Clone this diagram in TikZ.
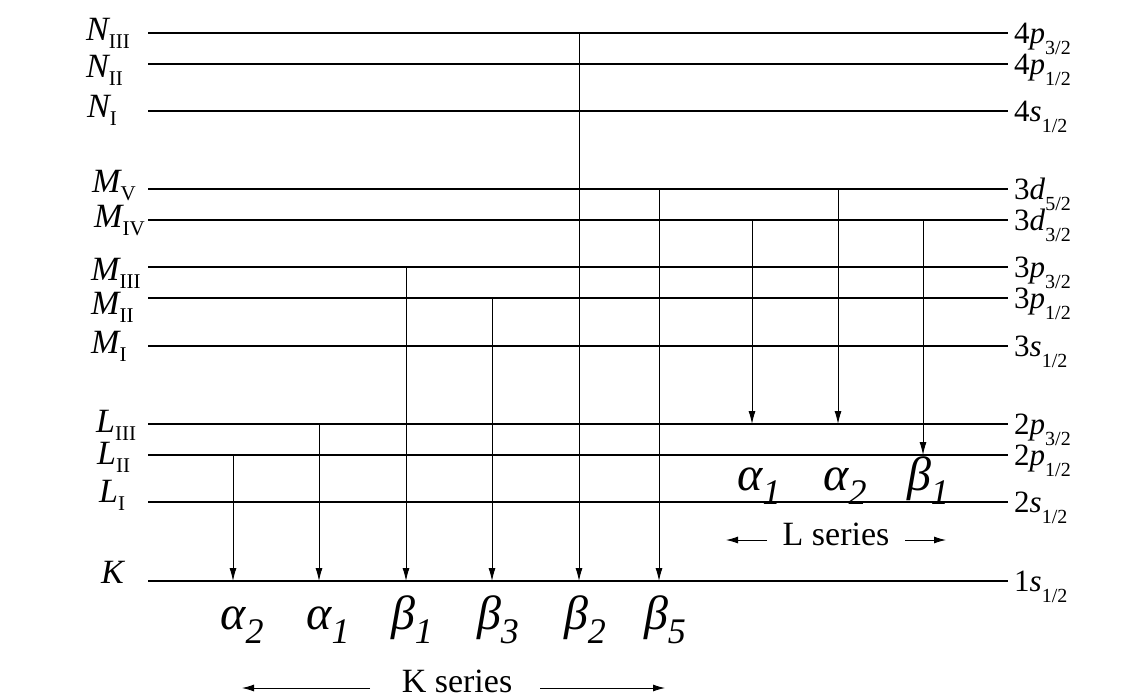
\documentclass[tikz,border=0pt]{standalone}
\usepackage{fontspec}
\setmainfont{Liberation Serif}
\usetikzlibrary{arrows.meta}
\newcommand\shellLab[2]{{\fontsize{34}{34}\selectfont\itshape #1}\raisebox{-8pt}{\fontsize{21}{21}\selectfont #2}}
\newcommand\orbLab[4]{{\fontsize{31}{31}\selectfont #1\textit{#2}}\raisebox{-11pt}{\fontsize{20}{20}\selectfont #3/#4}}
\newcommand\lineLab[2]{{\fontsize{48}{48}\selectfont\itshape #1\rlap{\raisebox{-14pt}{\fontsize{36}{36}\selectfont #2}}}}
\begin{document}
\begin{tikzpicture}[x=1pt,y=-1pt,
  level/.style={line width=1.2pt},
  trans/.style={line width=0.9pt,-{Latex[length=13pt,width=7pt]}},
  series/.style={line width=0.9pt,-{Latex[length=12pt,width=7pt]}},
  lab/.style={inner sep=0pt,anchor=base west},
  glab/.style={inner sep=0pt,anchor=base},
  stxt/.style={inner sep=0pt,anchor=base,font=\fontsize{34}{34}\selectfont}]
\useasboundingbox (0,0) rectangle (1140,699);
% energy levels
\foreach \n/\y/\L/\S/\lx/\lb/\R/\o/\fa/\fb in {
  NIII/33/N/III/86/40/4/p/3/2,
  NII/64/N/II/86/77/4/p/1/2,
  NI/111/N/I/87/117/4/s/1/2,
  MV/189/M/V/92/192/3/d/5/2,
  MIV/220/M/IV/94/227/3/d/3/2,
  MIII/267/M/III/91/280/3/p/3/2,
  MII/298/M/II/91/314/3/p/1/2,
  MI/346/M/I/91/353/3/s/1/2,
  LIII/424/L/III/96/432/2/p/3/2,
  LII/455/L/II/97/464/2/p/1/2,
  LI/502/L/I/99/502/2/s/1/2,
  K/581/K//101/583/1/s/1/2}{
  \coordinate (\n-l) at (148,\y);
  \coordinate (\n-r) at (1008,\y);
  \draw[level] (\n-l) -- (\n-r);
  \node[lab] (\n-name) at (\lx,\lb) {\shellLab{\L}{\S}};
  \node[lab] (\n-orb) at (1014,\y+10) {\orbLab{\R}{\o}{\fa}{\fb}};
}
% transitions
\foreach \i/\x/\from/\to in {
  ka2/233/LII/K, ka1/319/LIII/K, kb1/406/MIII/K, kb3/492/MII/K,
  kb2/579/NIII/K, kb5/659/MV/K,
  la1/752/MIV/LIII, la2/838/MV/LIII, lb1/923/MIV/LII}{
  \coordinate (\i) at (\x,0);
  \draw[trans] (\from-l -| \i) -- (\to-l -| \i);
}
% K series line labels
\node[glab] (t-ka2) at (233,629) {\lineLab{α}{2}};
\node[glab] (t-ka1) at (319,629) {\lineLab{α}{1}};
\node[glab] (t-kb1) at (403,629) {\lineLab{β}{1}};
\node[glab] (t-kb3) at (489,629) {\lineLab{β}{3}};
\node[glab] (t-kb2) at (576,629) {\lineLab{β}{2}};
\node[glab] (t-kb5) at (656,629) {\lineLab{β}{5}};
% L series line labels
\node[glab] (t-la1) at (750,490) {\lineLab{α}{1}};
\node[glab] (t-la2) at (836,490) {\lineLab{α}{2}};
\node[glab] (t-lb1) at (919,490) {\lineLab{β}{1}};
% series captions
\node[stxt] (kser) at (457,692) {K series};
\coordinate (kl1) at (370,688); \coordinate (kl2) at (242,688);
\coordinate (kr1) at (540,688); \coordinate (kr2) at (665,688);
\draw[series] (kl1) -- (kl2);
\draw[series] (kr1) -- (kr2);
\node[stxt] (lser) at (836,545) {L series};
\coordinate (ll1) at (767,540); \coordinate (ll2) at (726,540);
\coordinate (lr1) at (905,540); \coordinate (lr2) at (946,540);
\draw[series] (ll1) -- (ll2);
\draw[series] (lr1) -- (lr2);
\end{tikzpicture}
\end{document}
